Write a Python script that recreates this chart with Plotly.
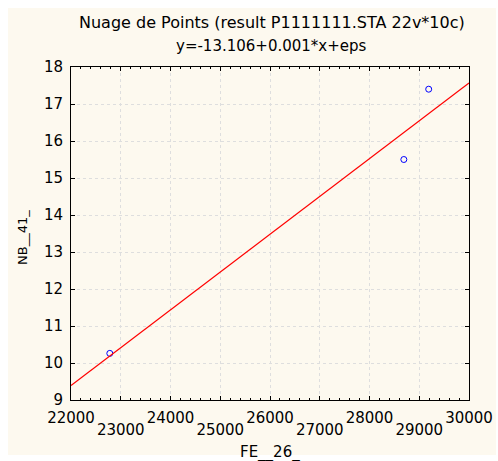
import numpy as np
import plotly.graph_objects as go

# Observations
fe_26 = [22780, 28690, 29190]
nb_41 = [10.26, 15.50, 17.40]

# Regression coefficients (y = b0 + b1*x)
b0 = -13.106
b1 = 0.0010225

x_ticks = list(range(22000, 30001, 1000))
y_ticks = list(range(9, 19))

title_main = "Nuage de Points (result P1111111.STA 22v*10c)"
title_eq = f"y={b0:.3f}+{b1:.3f}*x+eps"
x_title = "FE__26_"
y_title = "NB__41_"

FONT = "DejaVu Sans"
CREAM = "#fdf9ef"
GRID = "#dedede"
INK = "#000000"

x_line = np.array([22000, 30000])
y_line = b0 + b1 * x_line

fig = go.Figure()
fig.add_trace(go.Scatter(
    x=fe_26, y=nb_41, mode="markers",
    marker=dict(symbol="circle-open", size=6, color="#0000ff", line=dict(width=1, color="#0000ff")),
    showlegend=False, hoverinfo="x+y",
))
fig.add_trace(go.Scatter(
    x=x_line, y=y_line, mode="lines", xaxis="x2",
    line=dict(color="#ff0000", width=1.2),
    showlegend=False, hoverinfo="skip",
))

L, R, T, B = 71, 29, 67, 61
W, H = 498, 461
pw, ph = W - L - R, H - T - B


def px(xp):
    return (xp - L) / pw


def py(yp):
    return (H - B - yp) / ph


even_text = [str(v) if (v // 1000) % 2 == 0 else "" for v in x_ticks]
odd_vals = [v for v in x_ticks if (v // 1000) % 2 == 1]

fig.update_layout(
    width=W, height=H,
    margin=dict(l=L, r=R, t=T, b=B, autoexpand=False),
    paper_bgcolor="white",
    plot_bgcolor="white",
    font=dict(family=FONT, size=15, color=INK),
    xaxis=dict(
        range=[22000, 30000], tickmode="array", tickvals=x_ticks, ticktext=even_text,
        ticks="inside", ticklen=4, tickcolor=INK, tickwidth=1,
        showline=True, linecolor=INK, linewidth=1, mirror="ticks",
        showgrid=True, gridcolor=GRID, griddash="dot", gridwidth=1,
        zeroline=False, ticklabelstandoff=4, automargin=False,
        minor=dict(tickmode="linear", tick0=22000, dtick=200, ticks="inside",
                   ticklen=2, tickcolor=INK, showgrid=False),
    ),
    xaxis2=dict(
        range=[22000, 30000], overlaying="x", side="bottom",
        tickmode="array", tickvals=odd_vals, ticktext=[str(v) for v in odd_vals],
        ticks="", showline=False, showgrid=False, zeroline=False,
        ticklabelstandoff=19, automargin=False,
    ),
    yaxis=dict(
        range=[9, 18], tickmode="array", tickvals=y_ticks,
        ticks="inside", ticklen=4, tickcolor=INK, tickwidth=1,
        showline=True, linecolor=INK, linewidth=1, mirror="ticks",
        showgrid=True, gridcolor=GRID, griddash="dot", gridwidth=1,
        zeroline=False, ticklabelstandoff=4, automargin=False,
    ),
    shapes=[dict(
        type="rect", xref="paper", yref="paper", layer="below",
        x0=px(8), x1=px(496), y0=py(455), y1=py(8),
        fillcolor=CREAM, line=dict(width=0),
    )],
    annotations=[
        dict(text=title_main, xref="paper", yref="paper", x=px(272), y=py(22),
             xanchor="center", yanchor="middle", showarrow=False,
             font=dict(family=FONT, size=16, color=INK)),
        dict(text=title_eq, xref="paper", yref="paper", x=px(271), y=py(46),
             xanchor="center", yanchor="middle", showarrow=False,
             font=dict(family=FONT, size=15, color=INK)),
        dict(text=x_title, xref="paper", yref="paper", x=px(270), y=py(452),
             xanchor="center", yanchor="middle", showarrow=False,
             font=dict(family=FONT, size=15, color=INK)),
        dict(text=y_title, xref="paper", yref="paper", x=px(22), y=py(238),
             xanchor="center", yanchor="middle", showarrow=False, textangle=-90,
             font=dict(family=FONT, size=13, color=INK)),
    ],
)

fig.write_html("out.html")
